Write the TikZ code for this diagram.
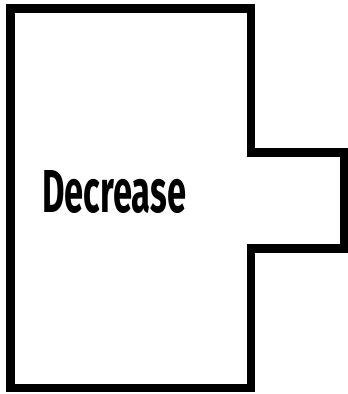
\documentclass[tikz,border=0pt]{standalone}
\usepackage{fontspec}
\setmainfont{Fira Sans}
\begin{document}
\begin{tikzpicture}[x=1pt,y=1pt,
  outline/.style={draw=black,line width=8.5pt,line join=miter},
  label/.style={inner sep=0pt,anchor=south west}]
\useasboundingbox (0,0) rectangle (348,394);
\fill[white] (0,0) rectangle (348,394);
\draw[outline] (10.5,385.5) -- (251,385.5) -- (251,241.5) -- (344,241.5)
  -- (344,145.5) -- (251,145.5) -- (251,6) -- (10.5,6) -- cycle;
\node[label] (txt) at (42,180) {\resizebox{144pt}{42pt}{\bfseries Decrease}};
\end{tikzpicture}
\end{document}
